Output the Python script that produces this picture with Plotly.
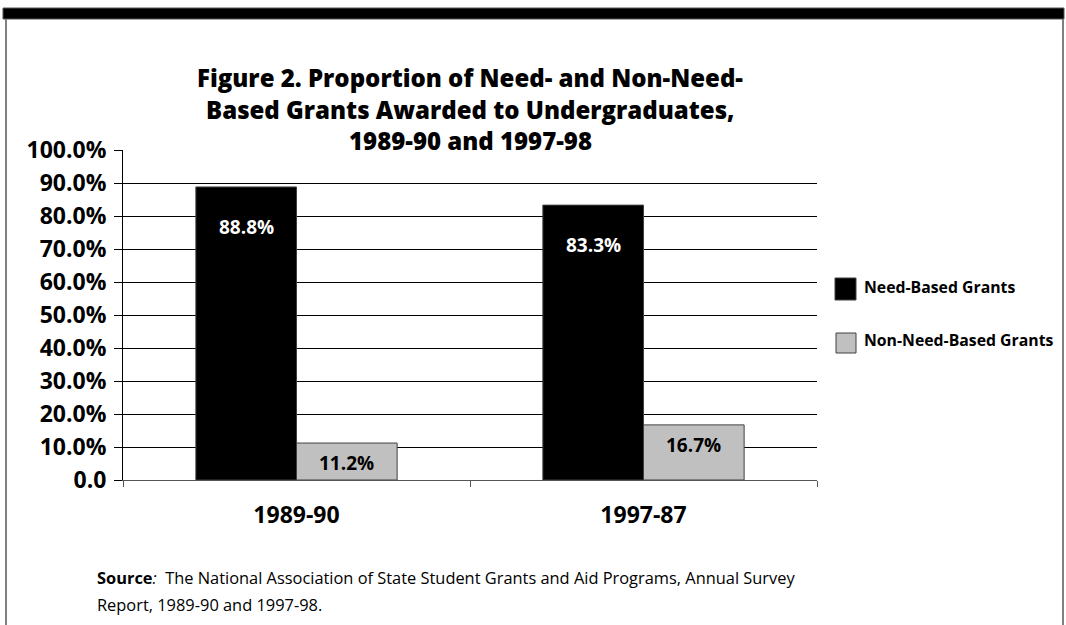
import plotly.graph_objects as go

# ---- data ----
categories = ["1989-90", "1997-87"]
need_based = [88.8, 83.3]
non_need_based = [11.2, 16.7]
series_names = ["Need-Based Grants", "Non-Need-Based Grants"]
series_colors = ["#000000", "#c0c0c0"]
label_colors = ["#ffffff", "#000000"]
y_tickvals = [0, 10, 20, 30, 40, 50, 60, 70, 80, 90, 100]
y_ticktext = ["0.0", "10.0%", "20.0%", "30.0%", "40.0%", "50.0%",
              "60.0%", "70.0%", "80.0%", "90.0%", "100.0%"]
title_lines = ["Figure 2. Proportion of Need- and Non-Need-",
               "Based Grants Awarded to Undergraduates,",
               "1989-90 and 1997-98"]
source_lines = ["<b>Source</b><i>:</i>  The National Association of State Student Grants and Aid Programs, Annual Survey",
                "Report, 1989-90 and 1997-98."]

W, H = 1066, 625
PX0, PX1, PY0, PY1 = 123, 817, 480, 150  # plot area in pixels
FONT = "Open Sans"


def px(x):
    return (x - PX0) / (PX1 - PX0)


def py(y):
    return (PY0 - y) / (PY0 - PY1)


fig = go.Figure()
for vals, name, col in zip([need_based, non_need_based], series_names, series_colors):
    fig.add_trace(go.Bar(
        x=categories, y=vals, name=name,
        marker=dict(color=col, line=dict(color="#404040", width=1)),
        showlegend=False, hoverinfo="x+y",
    ))

# bar value labels
bargap = 0.42
cat_px = (PX1 - PX0) / len(categories)
bar_w = cat_px * (1 - bargap) / 2
for si, (vals, lc) in enumerate(zip([need_based, non_need_based], label_colors)):
    for c, v in zip(categories, vals):
        fig.add_annotation(
            x=c, y=v, xref="x", yref="y", text=f"<b>{v:.1f}%</b>",
            showarrow=False, yanchor="top",
            xshift=(si - 0.5) * bar_w,
            yshift=-25 if si == 0 else -5,
            font=dict(family=FONT, size=19, color=lc),
        )

# title (one annotation per line to control spacing)
for line, cy in zip(title_lines, [77, 109, 140]):
    fig.add_annotation(
        x=px(470), y=py(cy), xref="paper", yref="paper", text=line,
        showarrow=False, xanchor="center", yanchor="middle",
        font=dict(family=FONT, size=24, color="#000000", weight=800),
    )

# legend (manual)
leg = [(835, 278, 856, 300, 287), (836, 333, 856, 353, 340)]
for (x0, y0, x1, y1, ty), name, col in zip(leg, series_names, series_colors):
    fig.add_shape(type="rect", xref="paper", yref="paper",
                  x0=px(x0), x1=px(x1), y0=py(y1), y1=py(y0),
                  fillcolor=col, line=dict(color="#404040", width=1))
    fig.add_annotation(x=px(862), y=py(ty), xref="paper", yref="paper",
                       text=f"<b>{name}</b>", showarrow=False,
                       xanchor="left", yanchor="middle",
                       font=dict(family=FONT, size=15.8, color="#000000"))

# source
for line, cy in zip(source_lines, [577, 604]):
    fig.add_annotation(
        x=px(95), y=py(cy), xref="paper", yref="paper", text=line,
        showarrow=False, xanchor="left", yanchor="middle", align="left",
        font=dict(family=FONT, size=16.4, color="#000000"),
    )

# frame
fig.add_shape(type="rect", xref="paper", yref="paper",
              x0=px(3), x1=px(1064), y0=py(19), y1=py(8),
              fillcolor="#000000", line=dict(color="#555555", width=1), layer="above")
for xx in (6, 1063):
    fig.add_shape(type="line", xref="paper", yref="paper",
                  x0=px(xx), x1=px(xx), y0=py(19), y1=py(630),
                  line=dict(color="#808080", width=2))

fig.update_layout(
    width=W, height=H,
    margin=dict(l=PX0, r=W - PX1, t=PY1, b=H - PY0, autoexpand=False),
    paper_bgcolor="white", plot_bgcolor="white",
    barmode="group", bargap=bargap, bargroupgap=0,
    font=dict(family=FONT, color="#000000"),
)
fig.update_yaxes(
    range=[0, 100], tickvals=y_tickvals, ticktext=y_ticktext,
    showgrid=True, gridcolor="#000000", gridwidth=1,
    showline=True, linecolor="#000000", linewidth=1,
    ticks="outside", ticklen=8, tickcolor="#000000", ticklabelstandoff=3,
    tickfont=dict(family=FONT, size=23, color="#000000", weight="bold"),
    zeroline=False, fixedrange=True,
)
fig.update_xaxes(
    showline=True, linecolor="#555555", linewidth=1,
    ticks="outside", tickson="boundaries", ticklen=6, tickcolor="#555555",
    ticklabelstandoff=14,
    tickfont=dict(family=FONT, size=23, color="#000000", weight="bold"),
    fixedrange=True,
)

fig.write_html("out.html",
               config={"displayModeBar": False},
               post_script="document.body.style.margin='0';document.body.style.overflow='hidden';")
